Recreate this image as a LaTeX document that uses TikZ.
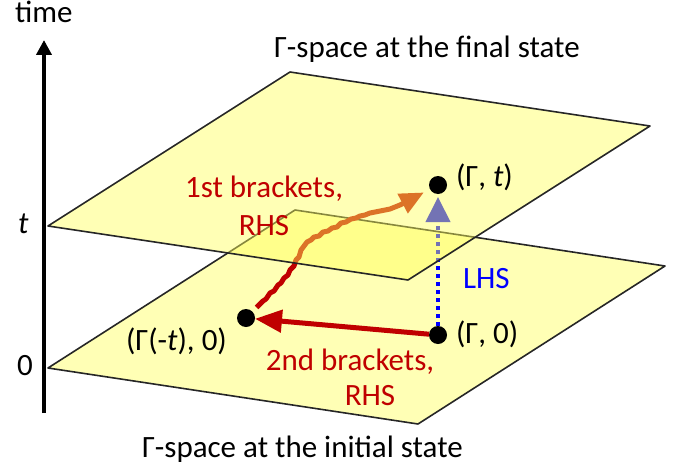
\documentclass[tikz,border=0pt]{standalone}
\usepackage{fontspec}
\setmainfont{Carlito}
\usetikzlibrary{arrows.meta}
\definecolor{dred}{RGB}{192,0,0}
\definecolor{planeY}{RGB}{255,255,90}
\definecolor{lowY}{RGB}{255,255,181}
\definecolor{lhsblue}{RGB}{0,0,255}
\begin{document}
\begin{tikzpicture}[x=1pt,y=-1pt,
  every node/.style={inner sep=0pt, outer sep=0pt},
  lbl/.style={anchor=base west, font=\fontsize{31}{38}\selectfont},
  dotarea/.style={circle, minimum size=18pt},
  dot/.style={circle, minimum size=18pt, fill=black},
  plane/.style={draw=black!85, line width=1.6pt, line join=round},
  thick arrow/.style={line width=5pt, line join=round}]
\useasboundingbox (0,0) rectangle (684,468);
% time axis
\coordinate (axb) at (44,413);
\coordinate (axt) at (44,40);
\draw[line width=4pt, -{Triangle[length=15pt,width=15pt]}] (axb) -- (axt);
% lower plane
\draw[plane, fill=lowY] (48,368) -- (295,210) -- (665,266) -- (418,424) -- cycle;
% points
\node[dot] (g0) at (438,335) {};
\node[dot] (gmt) at (246,318) {};
\node[dotarea] (gt) at (438,185) {};
% 2nd brackets arrow
\draw[dred, thick arrow, -{Triangle[length=27pt,width=22pt]}] (g0) -- (gmt);
% LHS dotted arrow
\draw[lhsblue, line width=4pt, dash pattern=on 4pt off 4pt, shorten >=3pt,
  -{Triangle[length=25pt,width=24pt]}] (g0) -- (gt);
% 1st brackets wiggly path
\draw[dred, thick arrow, shorten <=6pt, shorten >=7pt,
  -{Triangle[length=24pt,width=21pt]}]
  (gmt) -- (263,301) -- (266,299) -- (270,293) -- (274,291) -- (278,285) -- (281,283)
  -- (284,278) -- (288,275) -- (290,270) -- (294,266) -- (296,260) -- (299,257)
  -- (301,250) -- (304,246) -- (307,242) -- (311,240) -- (314,237) -- (319,236)
  -- (323,232) -- (328,231) -- (332,228) -- (337,227) -- (341,223) -- (346,222)
  -- (351,219) -- (356,218) -- (360,216) -- (365,215) -- (370,213) -- (375,212)
  -- (380,211) -- (385,210) -- (390,209) -- (395,207) -- (400,205) -- (gt);
% top plane (semi-transparent)
\draw[plane, fill=planeY, fill opacity=.45] (48,226) -- (290,72) -- (650,126) -- (408,280) -- cycle;
\node[dot] at (gt.center) {};
% labels
\node[lbl] (ltime) at (15,23) {time};
\node[lbl] (lt) at (18,233) {\textit{t}};
\node[lbl] (lzero) at (17,375) {0};
\node[lbl] (lfinal) at (274,58) {Γ-space at the final state};
\node[lbl] (linit) at (142,457) {Γ-space at the initial state};
\node[lbl] (lgt) at (456,186) {(Γ, \textit{t})};
\node[lbl] (lg0) at (456,343) {(Γ, 0)};
\node[lbl] (lgmt) at (126,350) {(Γ(-\textit{t}), 0)};
\node[lbl, anchor=base, align=center, text=dred] (lfirst) at (264,235) {1st brackets,\\RHS};
\node[lbl, anchor=base, align=center, text=dred] (lsecond) at (350,405) {2nd brackets,\\[-3pt]\hspace*{40pt}RHS};
\node[lbl, text=lhsblue] (llhs) at (463,288) {LHS};
\end{tikzpicture}
\end{document}
